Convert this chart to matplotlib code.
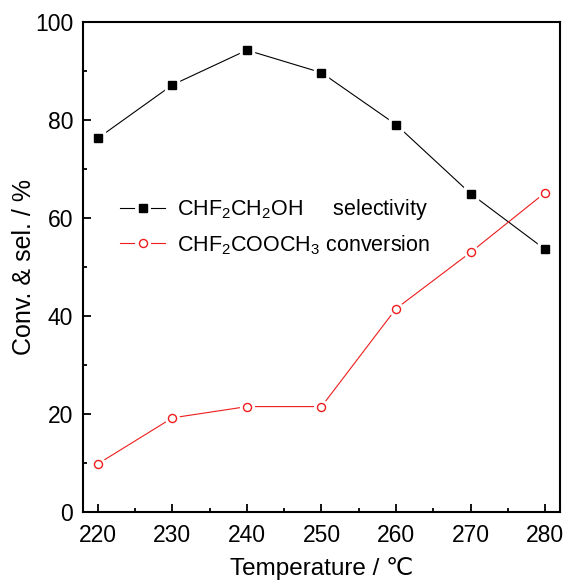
import matplotlib
matplotlib.use('Agg')
import matplotlib.pyplot as plt
from matplotlib.ticker import MultipleLocator
from matplotlib.lines import Line2D
from matplotlib.legend_handler import HandlerLine2D

plt.rcParams['font.family'] = ['Liberation Sans', 'DejaVu Sans']
plt.rcParams['mathtext.fontset'] = 'custom'
plt.rcParams['mathtext.rm'] = 'Liberation Sans'
plt.rcParams['mathtext.it'] = 'Liberation Sans'

temperature = [220, 230, 240, 250, 260, 270, 280]
selectivity = [76.3, 87.2, 94.3, 89.7, 79.1, 65.0, 53.6]
conversion = [9.8, 19.2, 21.5, 21.5, 41.5, 53.0, 65.2]

fig = plt.figure(figsize=(5.68, 5.85), dpi=100)
ax = fig.add_axes([0.146, 0.125, 0.840, 0.837])

LW = 0.8
MS = 5.8


class GapHandler(HandlerLine2D):
    # line - marker - line, with a small gap on each side of the marker
    def create_artists(self, legend, orig, xdescent, ydescent, width, height,
                       fontsize, trans):
        y = height / 2 - ydescent
        x0 = -xdescent
        x1 = x0 + width
        xm = (x0 + x1) / 2
        g = 0.19 * width
        arts = []
        for a, b in ((x0, xm - g), (xm + g, x1)):
            seg = Line2D([a, b], [y, y], color=orig.get_color(), lw=LW)
            seg.set_transform(trans)
            arts.append(seg)
        mk = Line2D([xm], [y], ls='none', marker=orig.get_marker(),
                    ms=orig.get_markersize(), mfc=orig.get_markerfacecolor(),
                    mec=orig.get_markeredgecolor(), mew=orig.get_markeredgewidth())
        mk.set_transform(trans)
        arts.append(mk)
        return arts


def series(y, color, marker, face):
    ax.plot(temperature, y, color=color, lw=LW, zorder=2)
    ax.plot(temperature, y, ls='none', marker=marker, ms=MS + 4,
            mfc='white', mec='white', zorder=3)
    ax.plot(temperature, y, ls='none', marker=marker, ms=MS,
            mfc=face, mec=color, mew=1.0, zorder=4)
    return Line2D([], [], color=color, lw=LW, marker=marker, ms=MS,
                  mfc=face, mec=color, mew=1.0)


h1 = series(selectivity, 'black', 's', 'black')
h2 = series(conversion, '#ee1c1c', 'o', 'white')

ax.legend([h1, h2], ['CHF$_2$CH$_2$OH     selectivity', 'CHF$_2$COOCH$_3$ conversion'],
          handler_map={Line2D: GapHandler()},
          loc='center left', bbox_to_anchor=(0.06, 0.582), borderaxespad=0,
          frameon=False, fontsize=15.5, handlelength=2.1, handletextpad=0.55,
          labelspacing=0.5)

ax.set_xlim(218, 282)
ax.set_ylim(0, 100)
ax.xaxis.set_major_locator(MultipleLocator(10))
ax.xaxis.set_minor_locator(MultipleLocator(5))
ax.yaxis.set_major_locator(MultipleLocator(20))
ax.yaxis.set_minor_locator(MultipleLocator(10))
ax.tick_params(which='both', direction='in', labelsize=16.5, width=1.3)
ax.tick_params(which='major', length=6)
ax.tick_params(which='minor', length=3)
ax.tick_params(axis='x', pad=9)
ax.tick_params(axis='y', pad=7)
for s in ax.spines.values():
    s.set_linewidth(1.5)

ax.set_xlabel('Temperature / ℃', fontsize=17.5, labelpad=7)
ax.set_ylabel('Conv. & sel. / %', fontsize=18, labelpad=-1)

fig.savefig('out.png', dpi=100)
